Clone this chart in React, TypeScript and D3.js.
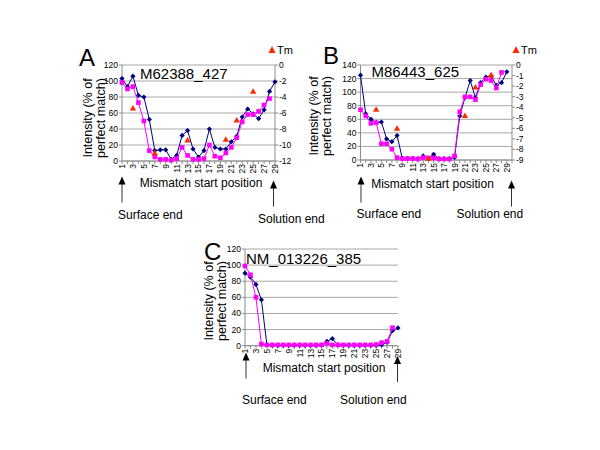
import React from "react";
import * as d3 from "d3";

// ---------- data ----------
const categories = [1, 2, 3, 4, 5, 6, 7, 8, 9, 10, 11, 12, 13, 14, 15, 16, 17, 18, 19, 20, 21, 22, 23, 24, 25, 26, 27, 28, 29];
const tickLabels = ["1", "3", "5", "7", "9", "11", "13", "15", "17", "19", "21", "23", "25", "27", "29"];

const titleA = "M62388_427";
const blueA = [103, 93, 106, 82, 80, 52, 13, 14, 14, 2, 7, 32, 38, 15, 5, 13, 40, 17, 15, 15, 24, 31, 55, 65, 59, 53, 64, 87, 99];
const pinkA = [98, 90, 93, 73, 50, 13, 5, 2, 2, 1, 3, 17, 7, 2, 2, 3, 20, 6, 4, 10, 17, 29, 49, 58, 58, 62, 70, 78];
const tmPosA = [3, 7, 13, 20, 22, 25];
const tmA = [-5.4, -11.0, -9.4, -9.3, -6.9, -3.3];
const leftTicksA = [0, 20, 40, 60, 80, 100, 120];
const rightTicksA = [0, -2, -4, -6, -8, -10, -12];

const titleB = "M86443_625";
const blueB = [125, 68, 60, 55, 56, 31, 27, 36, 2.5, 2.5, 2.5, 2, 6, 2.5, 8.5, 2, 2, 2, 4, 65, 92, 117, 92, 114, 122, 124, 110, 114, 130];
const pinkB = [74, 65, 54, 55, 24, 24, 16, 3.5, 2, 2, 2, 1.5, 3.5, 3, 3, 1.5, 1.5, 1.5, 6, 71, 93, 93, 89, 111, 119, 117, 106, 129];
const tmPosB = [4, 8, 14, 21, 23, 26];
const tmB = [-4.2, -6.0, -8.85, -4.8, -2.1, -0.95];
const leftTicksB = [0, 20, 40, 60, 80, 100, 120, 140];
const rightTicksB = [0, -1, -2, -3, -4, -5, -6, -7, -8, -9];

const titleC = "NM_013226_385";
const blueC = [90, 85, 76, 57, 1.5, 0.5, 0.5, 0.5, 0.5, 0.5, 0.5, 0.5, 0.5, 0.5, 0.8, 5.5, 8.7, 1, 0.5, 0.5, 0.5, 0.5, 0.5, 0.5, 0.5, 1, 4, 18.6, 22];
const pinkC = [99, 88, 60, 2, 1, 1, 1, 1, 1, 1, 1, 1, 1, 1, 1, 3, 1, 1, 1, 1, 1, 1, 1, 1, 1.5, 3.8, 5.4, 22.3];
const leftTicksC = [0, 20, 40, 60, 80, 100, 120];

const yLabel1 = "Intensity (% of";
const yLabel2 = "perfect match)";
const xLabel = "Mismatch start position";
const surfaceLabel = "Surface end";
const solutionLabel = "Solution end";
const legendLabel = "Tm";

// ---------- styles ----------
const FONT = "'Liberation Sans', Arial, Helvetica, sans-serif";
const BLUE = "#000080";
const PINK = "#ff00ff";
const RED = "#ff2a00";
const GRID = "#a8a8a8";
const AXIS = "#8c8c8c";

type Cfg = {
  letter: string;
  letterX: number;
  letterY: number;
  title: string;
  titleX: number;
  titleY: number;
  left: number;
  right: number;
  top: number;
  bottom: number;
  slots: number;
  yMax: number;
  leftTicks: number[];
  rightTicks?: number[];
  rightMin?: number;
  blue: number[];
  pink: number[];
  tmPos?: number[];
  tm?: number[];
  yl1X: number;
  yl2X: number;
  ylY: number;
  xlX: number;
  xlY: number;
  arrowL: [number, number];
  arrowR: [number, number];
  surfX: number;
  surfY: number;
  solX: number;
  solY: number;
  legendX?: number;
  legendY?: number;
};

function Arrow({ x, y1, y2 }: { x: number; y1: number; y2: number }) {
  return (
    <g>
      <line x1={x} x2={x} y1={y1 + 6} y2={y2} stroke="#333" strokeWidth={1} />
      <path d={`M${x},${y1} L${x + 3.5},${y1 + 8} L${x - 3.5},${y1 + 8}Z`} fill="#000" />
    </g>
  );
}

function Panel({ c }: { c: Cfg }) {
  const x = d3.scaleLinear().domain([1, c.slots]).range([c.left, c.right]);
  const y = d3.scaleLinear().domain([0, c.yMax]).range([c.bottom, c.top]);
  const yR = c.rightMin !== undefined ? d3.scaleLinear().domain([c.rightMin, 0]).range([c.bottom, c.top]) : null;
  const lineGen = d3
    .line<number>()
    .x((_, i) => x(categories[i]))
    .y((v) => y(v));
  const r = 2.6;
  const s = 4.6;
  return (
    <g fontFamily={FONT}>
      {c.leftTicks.map((t) => (
        <line key={"g" + t} x1={c.left} x2={c.right} y1={y(t)} y2={y(t)} stroke={GRID} strokeWidth={1} />
      ))}
      <line x1={c.left} x2={c.left} y1={c.top} y2={c.bottom} stroke={AXIS} />
      {c.leftTicks.map((t) => (
        <g key={"l" + t}>
          <line x1={c.left - 3} x2={c.left} y1={y(t)} y2={y(t)} stroke={AXIS} />
          <text x={c.left - 4} y={y(t)} dy="0.35em" textAnchor="end" fontSize={8.5}>
            {t}
          </text>
        </g>
      ))}
      {yR && c.rightTicks && (
        <g>
          <line x1={c.right} x2={c.right} y1={c.top} y2={c.bottom} stroke={AXIS} />
          {c.rightTicks.map((t) => (
            <g key={"r" + t}>
              <line x1={c.right} x2={c.right + 3} y1={yR(t)} y2={yR(t)} stroke={AXIS} />
              <text x={c.right + 4} y={yR(t)} dy="0.35em" textAnchor="start" fontSize={8.5}>
                {t}
              </text>
            </g>
          ))}
        </g>
      )}
      <line x1={c.left} x2={c.right} y1={c.bottom} y2={c.bottom} stroke={AXIS} />
      {d3.range(1, c.slots + 1).map((k) => (
        <line key={"xt" + k} x1={x(k)} x2={x(k)} y1={c.bottom} y2={c.bottom + 3} stroke={AXIS} />
      ))}
      {tickLabels.map((t) => (
        <text
          key={"xl" + t}
          transform={`translate(${x(+t)},${c.bottom + 3}) rotate(-90)`}
          dy="0.35em"
          textAnchor="end"
          fontSize={8.5}
        >
          {t}
        </text>
      ))}
      <path d={lineGen(c.blue) || ""} fill="none" stroke={BLUE} strokeWidth={1} />
      {c.blue.map((v, i) => (
        <path
          key={"b" + i}
          d={`M${x(categories[i])},${y(v) - r} l${r},${r} l${-r},${r} l${-r},${-r}Z`}
          fill={BLUE}
        />
      ))}
      <path d={lineGen(c.pink) || ""} fill="none" stroke={PINK} strokeWidth={1} />
      {c.pink.map((v, i) => (
        <rect key={"p" + i} x={x(categories[i]) - s / 2} y={y(v) - s / 2} width={s} height={s} fill={PINK} />
      ))}
      {yR &&
        c.tm &&
        c.tmPos &&
        c.tm.map((v, i) => (
          <path
            key={"t" + i}
            d={`M${x(c.tmPos![i])},${yR(v) - 3.2} l3.2,5.6 l-6.4,0Z`}
            fill={RED}
          />
        ))}
      <text x={c.letterX} y={c.letterY} fontSize={24}>
        {c.letter}
      </text>
      <text x={c.titleX} y={c.titleY} fontSize={15}>
        {c.title}
      </text>
      <text transform={`translate(${c.yl1X},${c.ylY}) rotate(-90)`} dy="0.35em" textAnchor="middle" fontSize={12.5}>
        {yLabel1}
      </text>
      <text transform={`translate(${c.yl2X},${c.ylY}) rotate(-90)`} dy="0.35em" textAnchor="middle" fontSize={12.5}>
        {yLabel2}
      </text>
      <text x={c.xlX} y={c.xlY} textAnchor="middle" fontSize={12}>
        {xLabel}
      </text>
      <Arrow x={c.arrowL[0]} y1={c.arrowL[1]} y2={c.arrowL[1] + 26} />
      <Arrow x={c.arrowR[0]} y1={c.arrowR[1]} y2={c.arrowR[1] + 26} />
      <text x={c.surfX} y={c.surfY} fontSize={12}>
        {surfaceLabel}
      </text>
      <text x={c.solX} y={c.solY} fontSize={12}>
        {solutionLabel}
      </text>
      {c.legendX !== undefined && (
        <g>
          <path d={`M${c.legendX},${c.legendY! - 4} l3.5,7 l-7,0Z`} fill={RED} />
          <text x={c.legendX + 5} y={c.legendY! + 3.5} fontSize={11}>
            {legendLabel}
          </text>
        </g>
      )}
    </g>
  );
}

const panels: Cfg[] = [
  {
    letter: "A", letterX: 79, letterY: 66, title: titleA, titleX: 140, titleY: 78.5,
    left: 122, right: 275, top: 65, bottom: 161, slots: 29, yMax: 120,
    leftTicks: leftTicksA, rightTicks: rightTicksA, rightMin: -12,
    blue: blueA, pink: pinkA, tmPos: tmPosA, tm: tmA,
    yl1X: 88, yl2X: 101, ylY: 118, xlX: 201, xlY: 187,
    arrowL: [122, 176.5], arrowR: [273.5, 180.5],
    surfX: 118, surfY: 219, solX: 258, solY: 223, legendX: 272, legendY: 50,
  },
  {
    letter: "B", letterX: 323, letterY: 64, title: titleB, titleX: 371.5, titleY: 77,
    left: 360.5, right: 512, top: 65, bottom: 160, slots: 30, yMax: 140,
    leftTicks: leftTicksB, rightTicks: rightTicksB, rightMin: -9,
    blue: blueB, pink: pinkB, tmPos: tmPosB, tm: tmB,
    yl1X: 314, yl2X: 327, ylY: 116, xlX: 432.5, xlY: 188,
    arrowL: [361, 176.5], arrowR: [511.5, 180.5],
    surfX: 356.5, surfY: 218, solX: 456.5, solY: 218, legendX: 516, legendY: 50,
  },
  {
    letter: "C", letterX: 204, letterY: 260, title: titleC, titleX: 246, titleY: 264,
    left: 245, right: 398, top: 249, bottom: 345.7, slots: 29, yMax: 120,
    leftTicks: leftTicksC,
    blue: blueC, pink: pinkC,
    yl1X: 209, yl2X: 222, ylY: 301, xlX: 324, xlY: 371.5,
    arrowL: [246, 352.5], arrowR: [397.5, 356],
    surfX: 242, surfY: 404, solX: 340, solY: 404,
  },
];

export default function App() {
  return (
    <svg
      width={600}
      height={450}
      style={{ position: "absolute", left: 0, top: 0, background: "#fff" }}
    >
      <rect width={600} height={450} fill="#fff" />
      {panels.map((p) => (
        <Panel key={p.letter} c={p} />
      ))}
    </svg>
  );
}
